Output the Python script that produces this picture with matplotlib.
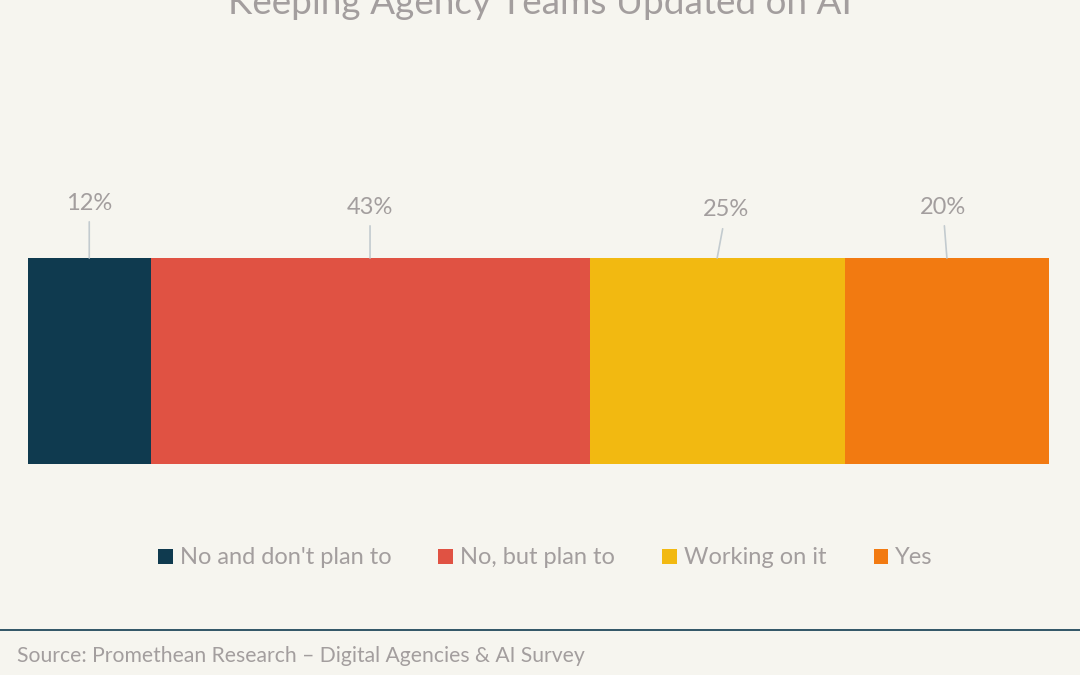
import matplotlib
matplotlib.use("Agg")
import matplotlib.pyplot as plt
from matplotlib.patches import Patch

categories = ["No and don't plan to", "No, but plan to", "Working on it", "Yes"]
values = [12, 43, 25, 20]
labels = ["12%", "43%", "25%", "20%"]
colors = ["#0f3a4f", "#e05243", "#f2b911", "#f27a11"]
title = "Keeping Agency Teams Updated on AI"
source = "Source: Promethean Research \u2013 Digital Agencies & AI Survey"

# label offsets in pixels (dx, dy) relative to top-centre of each segment
label_offsets = [(0, 55), (0, 51), (9, 48), (-4, 51)]

BG = "#f6f5ef"
TXT = "#a39e9e"
plt.rcParams['font.family'] = ['Lato', 'DejaVu Sans']

W, H = 1080, 675
fig = plt.figure(figsize=(W / 100, H / 100), dpi=100, facecolor=BG)

ax = fig.add_axes([28 / W, 1 - 464 / H, (1049 - 28) / W, (464 - 258) / H])
ax.set_facecolor(BG)
left = 0
for v, c, lab, off in zip(values, colors, labels, label_offsets):
    ax.barh(0, v, left=left, height=1, color=c, edgecolor='none')
    cx = left + v / 2
    ax.annotate(lab, xy=(cx, 0.5), xytext=off, textcoords='offset pixels',
                ha='center', va='center', fontsize=17, color=TXT,
                arrowprops=dict(arrowstyle='-', color='#c3cbcf', lw=1.2,
                                shrinkA=4, shrinkB=0),
                annotation_clip=False)
    left += v
ax.set_xlim(0, sum(values))
ax.set_ylim(-0.5, 0.5)
ax.axis('off')

fig.text(0.5, 1 - 14 / H, title, ha='center', va='baseline', fontsize=26.6, color=TXT)

handles = [Patch(facecolor=c, edgecolor='none') for c in colors]
fig.legend(handles, categories, loc='center', bbox_to_anchor=(0.505, 1 - 558 / H), ncol=4,
           frameon=False, fontsize=17, labelcolor=TXT, handlelength=0.62, handleheight=0.62,
           handletextpad=0.3, columnspacing=2.0)

fig.add_artist(plt.Line2D([0, 1], [1 - 630 / H, 1 - 630 / H], transform=fig.transFigure,
                          color='#0f3a4f', lw=1.2))
fig.text(17 / W, 1 - 656 / H, source, ha='left', va='center', fontsize=15.2, color=TXT)

fig.savefig("out.png", dpi=100, facecolor=BG)
